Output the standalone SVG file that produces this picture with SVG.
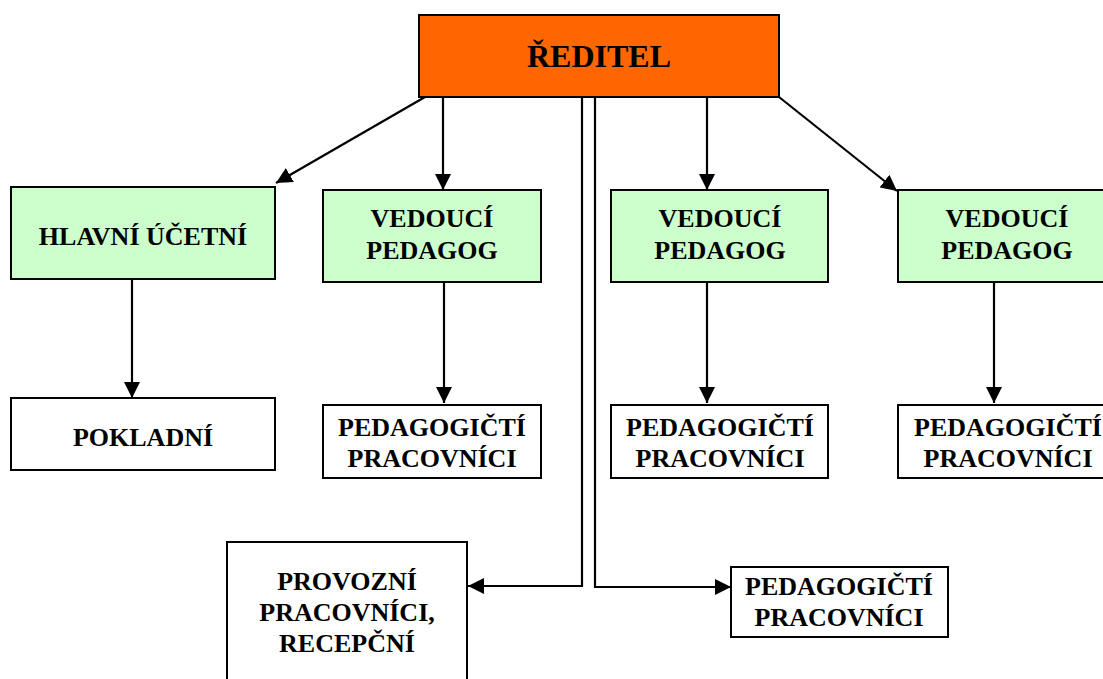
<svg xmlns="http://www.w3.org/2000/svg" width="1103" height="679" viewBox="0 0 1103 679">
<style>
  .box { stroke: #000; stroke-width: 2; }
  .green { fill: #CCFFCC; }
  .white { fill: #FFFFFF; }
  .orange { fill: #FF6600; }
  .t { font-family: "Liberation Serif", "Times New Roman", serif; font-weight: bold; font-size: 26px; fill: #000; text-anchor: middle; }
  .big { font-size: 32px; }
  .conn { stroke: #000; stroke-width: 2.2; fill: none; }
</style>
<defs>
  <marker id="arr" viewBox="0 0 16 16" markerWidth="16" markerHeight="16" refX="16" refY="8" orient="auto" markerUnits="userSpaceOnUse">
    <path d="M0,0 L16,8 L0,16 z" fill="#000"/>
  </marker>
</defs>
<rect width="1103" height="679" fill="#fff"/>

<g id="connectors">
  <line class="conn" x1="425" y1="97" x2="276" y2="183" marker-end="url(#arr)"/>
  <line class="conn" x1="443" y1="97" x2="443" y2="190" marker-end="url(#arr)"/>
  <line class="conn" x1="707" y1="97" x2="707" y2="190" marker-end="url(#arr)"/>
  <line class="conn" x1="779" y1="97" x2="897" y2="191" marker-end="url(#arr)"/>
  <line class="conn" x1="132" y1="279" x2="132" y2="398" marker-end="url(#arr)"/>
  <line class="conn" x1="444" y1="282" x2="444" y2="403" marker-end="url(#arr)"/>
  <line class="conn" x1="707" y1="282" x2="707" y2="403" marker-end="url(#arr)"/>
  <line class="conn" x1="994" y1="282" x2="994" y2="403" marker-end="url(#arr)"/>
  <polyline class="conn" points="582,97 582,586 468,586" marker-end="url(#arr)"/>
  <polyline class="conn" points="595,97 595,587 731,587" marker-end="url(#arr)"/>
</g>

<g id="reditel">
  <rect class="box orange" x="419" y="15" width="360" height="82"/>
  <text class="t big" x="599" y="67">ŘEDITEL</text>
</g>

<g id="hlavni-ucetni">
  <rect class="box green" x="11" y="187" width="264" height="92"/>
  <text class="t" x="143" y="245">HLAVNÍ ÚČETNÍ</text>
</g>

<g id="vedouci-1">
  <rect class="box green" x="323" y="190" width="218" height="92"/>
  <text class="t" x="432" y="227">VEDOUCÍ</text>
  <text class="t" x="432" y="259">PEDAGOG</text>
</g>

<g id="vedouci-2">
  <rect class="box green" x="611" y="190" width="217" height="92"/>
  <text class="t" x="720" y="227">VEDOUCÍ</text>
  <text class="t" x="720" y="259">PEDAGOG</text>
</g>

<g id="vedouci-3">
  <rect class="box green" x="898" y="190" width="218" height="92"/>
  <text class="t" x="1007" y="227">VEDOUCÍ</text>
  <text class="t" x="1007" y="259">PEDAGOG</text>
</g>

<g id="pokladni">
  <rect class="box white" x="11" y="398" width="264" height="72"/>
  <text class="t" x="143" y="446">POKLADNÍ</text>
</g>

<g id="pedagogicti-1">
  <rect class="box white" x="323" y="405" width="218" height="73"/>
  <text class="t" x="432" y="436">PEDAGOGIČTÍ</text>
  <text class="t" x="432" y="467">PRACOVNÍCI</text>
</g>

<g id="pedagogicti-2">
  <rect class="box white" x="611" y="405" width="217" height="73"/>
  <text class="t" x="720" y="436">PEDAGOGIČTÍ</text>
  <text class="t" x="720" y="467">PRACOVNÍCI</text>
</g>

<g id="pedagogicti-3">
  <rect class="box white" x="898" y="405" width="220" height="73"/>
  <text class="t" x="1008" y="436">PEDAGOGIČTÍ</text>
  <text class="t" x="1008" y="467">PRACOVNÍCI</text>
</g>

<g id="provozni">
  <rect class="box white" x="227" y="542" width="240" height="150"/>
  <text class="t" x="347" y="590">PROVOZNÍ</text>
  <text class="t" x="347" y="621">PRACOVNÍCI,</text>
  <text class="t" x="347" y="652">RECEPČNÍ</text>
</g>

<g id="pedagogicti-4">
  <rect class="box white" x="731" y="567" width="217" height="70"/>
  <text class="t" x="839" y="595">PEDAGOGIČTÍ</text>
  <text class="t" x="839" y="626">PRACOVNÍCI</text>
</g>
</svg>
